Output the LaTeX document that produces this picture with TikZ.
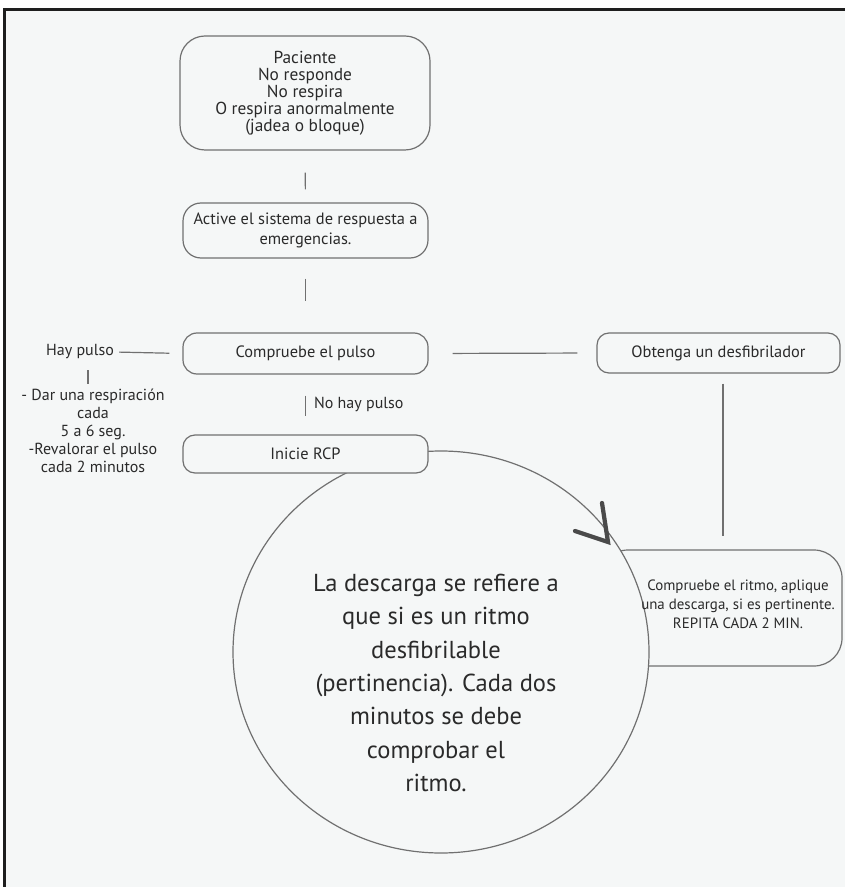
\documentclass[tikz,border=0pt]{standalone}
\usepackage{fontspec}
\setmainfont{PT Sans}
\usetikzlibrary{shapes.geometric}
\definecolor{fondo}{HTML}{F5F7F7}
\definecolor{marco}{HTML}{1E1E1E}
\definecolor{borde}{HTML}{707070}
\definecolor{letra}{HTML}{2A2A2A}

\begin{document}
\begin{tikzpicture}[
x=0.75pt, y=-0.75pt,
 caja/.style = {rectangle, draw=borde, fill=fondo,% styles of the boxes
                line width=0.9pt, align=center, text=letra,
                font=\fontsize{12.3}{15}\selectfont, inner sep=0pt},
texto/.style = {align=center, text=letra, inner sep=0pt,% free text
                font=\fontsize{12}{13.5}\selectfont},
linea/.style = {draw=borde, line width=0.9pt},
                        ]
\useasboundingbox (0,0) rectangle (845,887);
\fill[white] (0,0) rectangle (845,887);
\fill[fondo] (4,10) rectangle (845,887);
\draw[marco, line width=2.4pt] (4.5,887) -- (4.5,9.5) -- (845,9.5);
% boxes of the flow
\node[caja, minimum width=187.5pt, minimum height=85.5pt, rounded corners=18.75pt,
      font=\fontsize{13}{12.75}\selectfont]
    (paciente) at (305,93) {Paciente\\No responde\\No respira\\O respira anormalmente\\(jadea o bloque)};
\node[caja, minimum width=183.75pt, minimum height=41.25pt, rounded corners=13.5pt]
    (active) at (305.5,230.5) {Active el sistema de respuesta a\\emergencias.};
\node[caja, minimum width=183.75pt, minimum height=30.75pt, rounded corners=10.5pt]
    (pulso) at (305.5,353.5) {Compruebe el pulso};
\node[caja, minimum width=182.25pt, minimum height=30pt, rounded corners=9pt]
    (desfib) at (718.5,353) {Obtenga un desfibrilador};
\node[texto] (hay) at (80,352) {Hay pulso};
\node[texto] (dar) at (93,431)
    {- Dar una respiración\\cada\\5 a 6 seg.\\-Revalorar el pulso\\cada 2 minutos};
% rhythm box under the circle
\node[caja, minimum width=181.5pt, minimum height=87pt, rounded corners=21pt]
    (ritmo) at (721,608) {};
\node[ellipse, draw=borde, fill=fondo, line width=0.9pt,
      minimum width=312pt, minimum height=301.5pt] (ciclo) at (441,652) {};
\node[texto, font=\fontsize{11.2}{14.25}\selectfont] (ritmotxt) at (738,604)
    {Compruebe el ritmo, aplique\\una descarga, si es pertinente.\\REPITA CADA 2 MIN.};
\node[texto, font=\fontsize{18.4}{25}\selectfont] (nota) at (436,683)
    {La descarga se refiere a\\que si es un ritmo\\desfibrilable\\(pertinencia). Cada dos\\minutos se debe\\comprobar el\\ritmo.};
\node[caja, minimum width=183.75pt, minimum height=28.5pt, rounded corners=9pt]
    (rcp) at (305.5,454) {Inicie RCP};
% arrow head on the circle
\coordinate (punta) at (608,542);
\coordinate (ala1) at (575,531);
\coordinate (ala2) at (602,503);
\draw[draw=letra!85, line width=3.2pt, line cap=round] (ala1) -- (punta) -- (ala2);
% connectors
\foreach \a/\b/\s/\e in {paciente/active/16.5pt/9.75pt,
                         active/pulso/15pt/23.25pt}
    \draw[linea, shorten <=\s, shorten >=\e] (\a.south) -- (\b.north);
\draw[linea, shorten <=15.75pt, shorten >=13.5pt] (pulso.south) --
    node[texto, right=6pt] (nohay) {No hay pulso} (rcp.north);
\draw[linea, shorten <=18pt, shorten >=14.25pt] (pulso.east) -- (desfib.west);
\draw[linea, shorten <=3.75pt, shorten >=9.75pt] (hay.east) -- (pulso.west);
\draw[linea, shorten <=8pt, shorten >=3.75pt]
    ([xshift=6pt]hay.south) -- ([xshift=6pt]hay.south |- dar.north);
\draw[linea, shorten <=7.5pt, shorten >=9.75pt]
    ([xshift=3.4pt]desfib.south) -- ([xshift=3.4pt]desfib.south |- ritmo.north);
\end{tikzpicture}
\end{document}
